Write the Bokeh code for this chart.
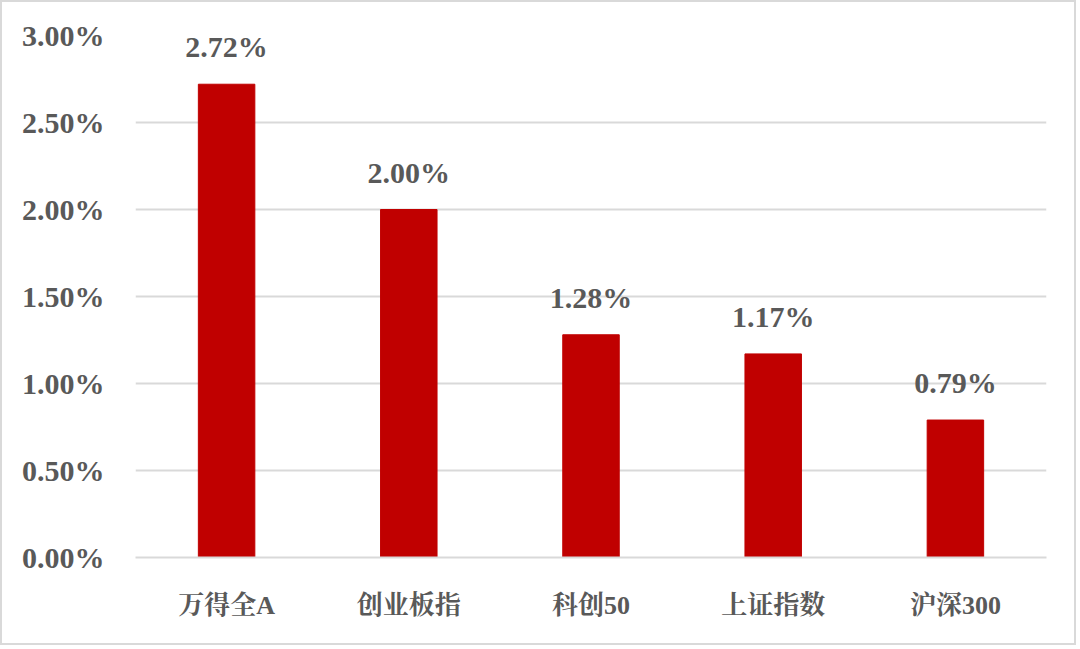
from bokeh.plotting import figure
from bokeh.models import ColumnDataSource, LabelSet, FixedTicker, CustomJSTickFormatter
from bokeh.embed import file_html
from bokeh.resources import INLINE

categories = ["万得全A", "创业板指", "科创50", "上证指数", "沪深300"]
values = [2.72, 2.00, 1.28, 1.17, 0.79]
tick_values = [0.0, 0.5, 1.0, 1.5, 2.0, 2.5, 3.0]

labels = [f"{v:.2f}%" for v in values]
src = ColumnDataSource(data=dict(cat=categories, val=values, lab=labels))

FONT = "'Liberation Serif', 'Noto Serif CJK SC', 'Noto Sans CJK SC', serif"
GRAY = "#595959"

p = figure(x_range=categories, y_range=(0, 3.0), width=1076, height=645,
           output_backend="svg", toolbar_location=None,
           min_border_left=133, min_border_right=32, min_border_top=33, min_border_bottom=90)
p.styles = {"border": "2px solid #d9d9d9"}
p.outline_line_color = None
p.background_fill_color = "white"
p.border_fill_color = "white"

p.vbar(x="cat", top="val", width=0.31, source=src, color="#C00000")

p.add_layout(LabelSet(x="cat", y="val", text="lab", source=src, y_offset=27,
                      text_align="center", text_baseline="alphabetic",
                      text_font=FONT, text_font_size="30px", text_font_style="bold",
                      text_color=GRAY))

p.yaxis.ticker = FixedTicker(ticks=tick_values)
p.yaxis.formatter = CustomJSTickFormatter(code="return tick.toFixed(2) + '%';")
p.yaxis.axis_line_color = None
p.yaxis.major_tick_line_color = None
p.yaxis.minor_tick_line_color = None
p.yaxis.major_label_standoff = 25
p.yaxis.major_label_text_font = FONT
p.yaxis.major_label_text_font_size = "30px"
p.yaxis.major_label_text_font_style = "bold"
p.yaxis.major_label_text_color = GRAY

p.xaxis.axis_line_color = "#d9d9d9"
p.xaxis.axis_line_width = 2
p.xaxis.major_tick_line_color = None
p.xaxis.minor_tick_line_color = None
p.xaxis.major_label_standoff = 27
p.xaxis.major_label_text_font = FONT
p.xaxis.major_label_text_font_size = "26px"
p.xaxis.major_label_text_font_style = "bold"
p.xaxis.major_label_text_color = GRAY

p.xgrid.grid_line_color = None
p.ygrid.grid_line_color = "#d9d9d9"
p.ygrid.grid_line_width = 2

open("out.html", "w").write(file_html(p, INLINE))
